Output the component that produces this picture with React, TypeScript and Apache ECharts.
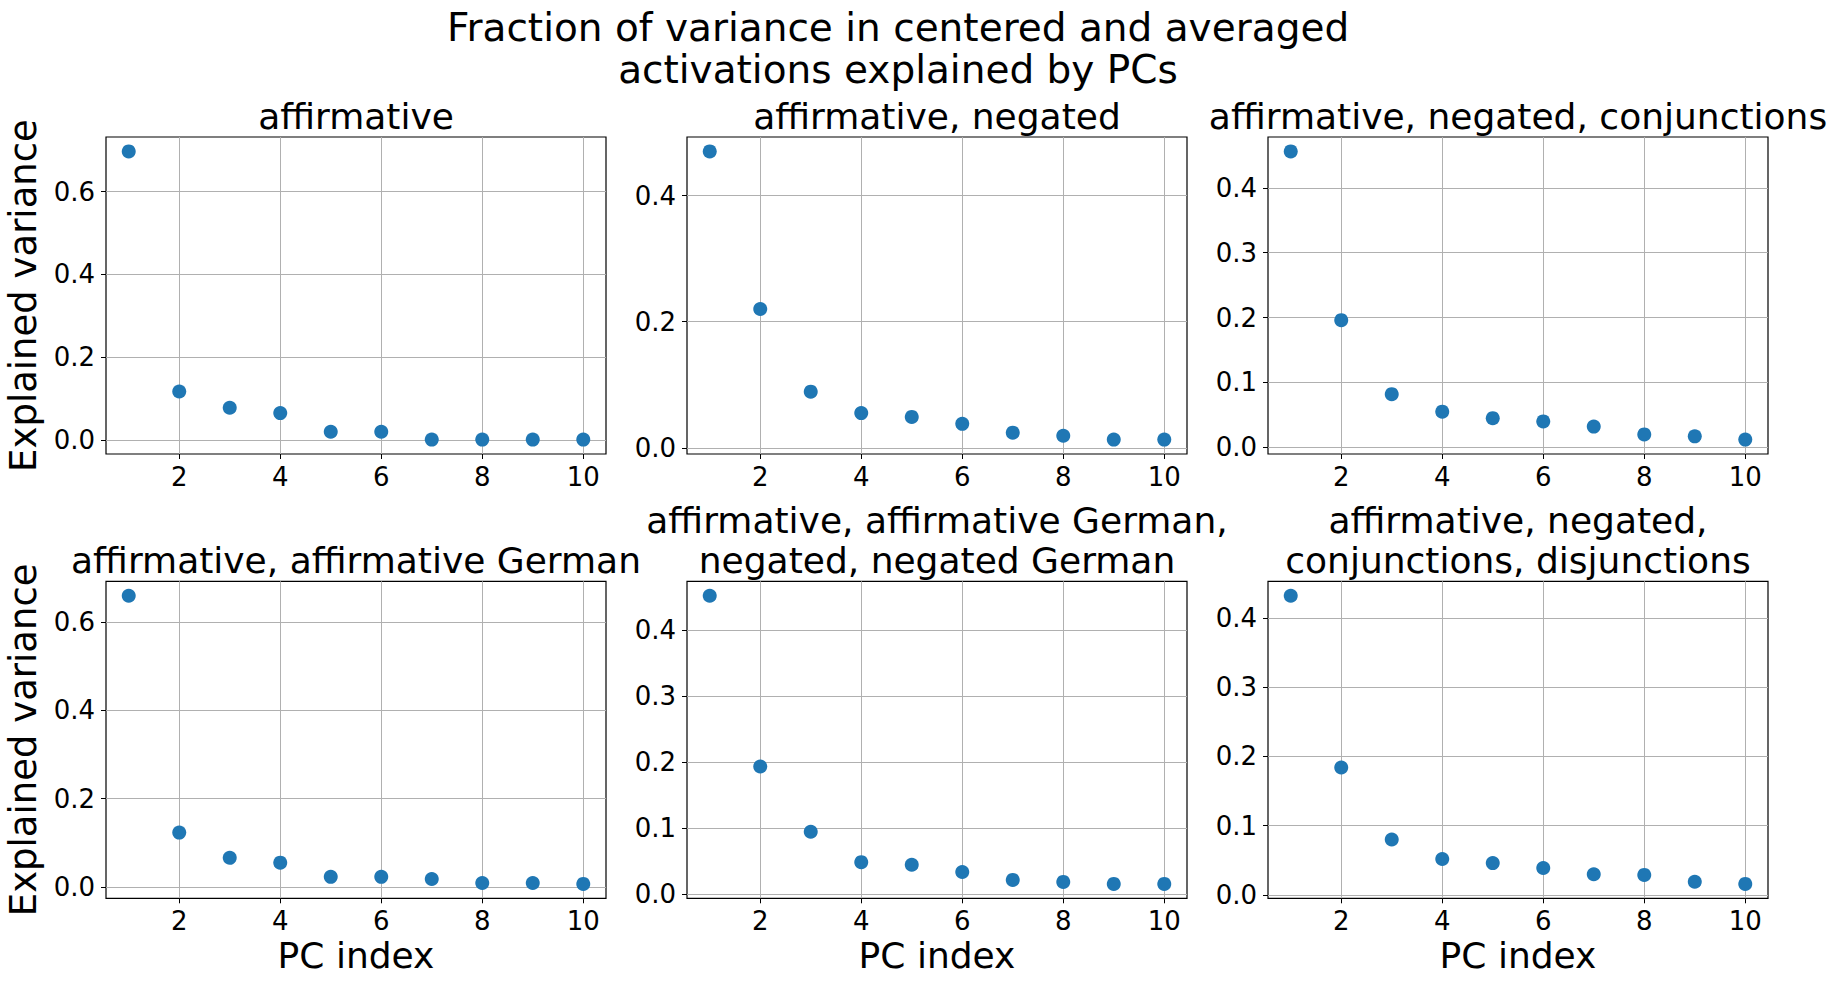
import React, { useEffect, useRef } from "react";
import * as echarts from "echarts";

const FONT = "DejaVu Sans";

const pcIndex = [1, 2, 3, 4, 5, 6, 7, 8, 9, 10];
const xTicks = [2, 4, 6, 8, 10];

const mainTitle = ["Fraction of variance in centered and averaged", "activations explained by PCs"];
const yLabel = "Explained variance";
const xLabel = "PC index";

const panelTitles: string[][] = [
  ["affirmative"],
  ["affirmative, negated"],
  ["affirmative, negated, conjunctions"],
  ["affirmative, affirmative German"],
  ["affirmative, affirmative German,", "negated, negated German"],
  ["affirmative, negated,", "conjunctions, disjunctions"],
];

const affirmative = [0.697, 0.117, 0.078, 0.065, 0.02, 0.02, 0.001, 0.001, 0.001, 0.001];
const affNeg = [0.47, 0.22, 0.089, 0.055, 0.049, 0.038, 0.024, 0.019, 0.013, 0.013];
const affNegConj = [0.456, 0.196, 0.082, 0.055, 0.045, 0.04, 0.032, 0.02, 0.017, 0.012];
const affAffGer = [0.659, 0.123, 0.066, 0.055, 0.023, 0.023, 0.018, 0.009, 0.009, 0.007];
const affAffGerNegNegGer = [0.452, 0.193, 0.094, 0.048, 0.044, 0.033, 0.021, 0.018, 0.015, 0.015];
const affNegConjDisj = [0.432, 0.184, 0.08, 0.052, 0.046, 0.039, 0.03, 0.029, 0.019, 0.016];

const yTicksA = [0, 0.2, 0.4, 0.6];
const yTicksB = [0, 0.2, 0.4];
const yTicksC = [0, 0.1, 0.2, 0.3, 0.4];

const panelValues = [affirmative, affNeg, affNegConj, affAffGer, affAffGerNegNegGer, affNegConjDisj];
const panelYTicks = [yTicksA, yTicksB, yTicksC, yTicksA, yTicksC, yTicksC];

const colLeft = [106, 687, 1268];
const rowTop = [137, 581.3];
const plotW = 500;
const plotH = 317;

function margins(vals: number[]) {
  const lo = Math.min(...vals);
  const hi = Math.max(...vals);
  const m = (hi - lo) * 0.05;
  return [lo - m, hi + m];
}

export default function App() {
  const ref = useRef<HTMLDivElement>(null);
  useEffect(() => {
    if (!ref.current) return;
    const chart = echarts.init(ref.current, undefined, { renderer: "svg" });
    const [xMin, xMax] = margins(pcIndex);
    const grids: any[] = [];
    const xAxes: any[] = [];
    const yAxes: any[] = [];
    const series: any[] = [];
    const graphics: any[] = [];

    panelValues.forEach((vals, i) => {
      const col = i % 3;
      const row = Math.floor(i / 3);
      const left = colLeft[col];
      const top = rowTop[row];
      grids.push({
        left,
        top,
        width: plotW,
        height: plotH,
        containLabel: false,
        outerBoundsMode: "none",
        show: true,
        borderColor: "#000",
        borderWidth: 1.2,
        backgroundColor: "transparent",
      });
      const [yMin, yMax] = margins(vals);
      const yt = panelYTicks[i];
      xAxes.push({
        type: "value",
        gridIndex: i,
        min: xMin,
        max: xMax,
        axisLine: { show: false, onZero: false },
        axisTick: { show: true, customValues: xTicks, length: 5, lineStyle: { color: "#000", width: 1 } },
        axisLabel: {
          customValues: xTicks,
          fontSize: 26,
          fontFamily: FONT,
          color: "#000",
          margin: 10,
          formatter: (v: number) => String(Math.round(v)),
        },
        splitLine: { show: true, lineStyle: { color: "#b0b0b0", width: 1 } },
      });
      yAxes.push({
        type: "value",
        gridIndex: i,
        min: yMin,
        max: yMax,
        axisLine: { show: false, onZero: false },
        axisTick: { show: true, customValues: yt, length: 5, lineStyle: { color: "#000", width: 1 } },
        axisLabel: {
          customValues: yt,
          fontSize: 26,
          fontFamily: FONT,
          color: "#000",
          margin: 11,
          formatter: (v: number) => v.toFixed(1),
        },
        splitLine: { show: true, lineStyle: { color: "#b0b0b0", width: 1 } },
      });
      series.push({
        type: "scatter",
        xAxisIndex: i,
        yAxisIndex: i,
        symbol: "circle",
        symbolSize: 14,
        itemStyle: { color: "#1f77b4", opacity: 1 },
        emphasis: { disabled: true },
        data: pcIndex.map((x, k) => [x, vals[k]]),
      });

      const cx = left + plotW / 2;
      const lines = panelTitles[i];
      const baseCenter = row === 0 ? 116.5 : 560.2;
      lines.forEach((t, j) => {
        const y = baseCenter - (lines.length - 1 - j) * 39.4;
        graphics.push({
          type: "text",
          x: cx,
          y,
          style: { text: t, fontSize: 36, fontFamily: FONT, fill: "#000", align: "center", verticalAlign: "middle" },
        });
      });
      if (row === 1) {
        graphics.push({
          type: "text",
          x: cx,
          y: 955.2,
          style: { text: xLabel, fontSize: 36, fontFamily: FONT, fill: "#000", align: "center", verticalAlign: "middle" },
        });
      }
      if (col === 0) {
        graphics.push({
          type: "text",
          x: 23.8,
          y: top + plotH / 2,
          rotation: Math.PI / 2,
          style: { text: yLabel, fontSize: 37, fontFamily: FONT, fill: "#000", align: "center", verticalAlign: "middle" },
        });
      }
    });

    mainTitle.forEach((t, j) => {
      graphics.push({
        type: "text",
        x: 898,
        y: 27.2 + j * 42.5,
        style: { text: t, fontSize: 39, fontFamily: FONT, fill: "#000", align: "center", verticalAlign: "middle" },
      });
    });

    chart.setOption({
      animation: false,
      backgroundColor: "#fff",
      textStyle: { fontFamily: FONT },
      grid: grids,
      xAxis: xAxes,
      yAxis: yAxes,
      series,
      graphic: graphics,
    });
    return () => chart.dispose();
  }, []);
  return (
    <div
      ref={ref}
      style={{ position: "fixed", left: 0, top: 0, width: 1837, height: 985, background: "#fff" }}
    />
  );
}
